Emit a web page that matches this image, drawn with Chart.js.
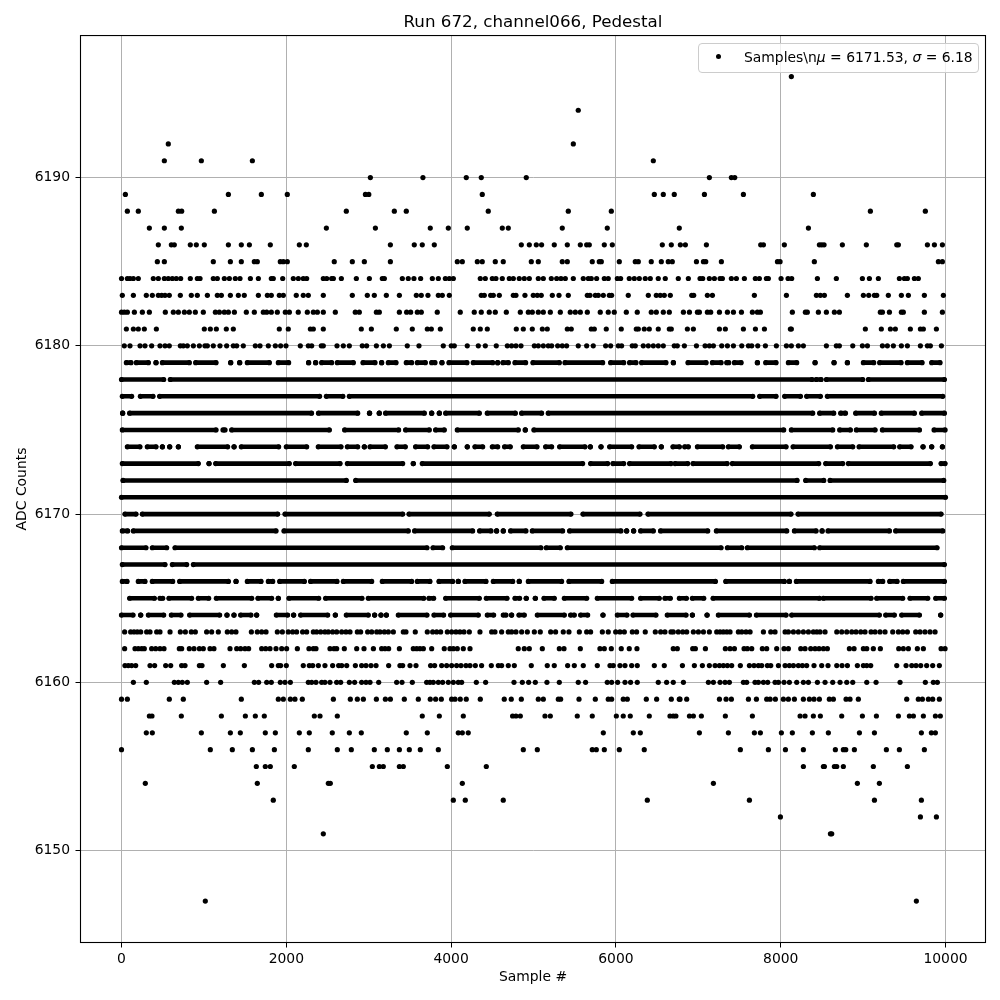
<!DOCTYPE html>
<html>
<head>
<meta charset="utf-8">
<title>Run 672 Pedestal</title>
<script src="https://cdn.jsdelivr.net/npm/chart.js@4/dist/chart.umd.js"></script>
<style>
html, body { margin: 0; padding: 0; background: #fff; }
#wrap { position: relative; width: 1000px; height: 1000px; }
#legend {
    position: absolute; left: 698px; top: 43px; width: 279px; height: 28px;
    background: rgba(255,255,255,0.8); border: 1px solid #ccc; border-radius: 4px;
    font: 13.9px "DejaVu Sans"; line-height: 26px; color: #000; white-space: pre;
}
#legend .dot { position: absolute; left: 17px; top: 10px; width: 5px; height: 5px; border-radius: 50%; background: #000; }
#legend .txt { position: absolute; left: 45px; top: 0; }
</style>
</head>
<body>
<div id="wrap">
    <canvas id="chart" width="1000" height="1000"></canvas>
    <div id="legend"><span class="dot"></span><span class="txt">Samples\n<i>μ</i> = 6171.53, <i>σ</i> = 6.18</span></div>
</div>
<script>
const titleText = 'Run 672, channel066, Pedestal';
const xLabel = 'Sample #';
const yLabel = 'ADC Counts';
const xTicks = [0, 2000, 4000, 6000, 8000, 10000];
const yTicks = [6150, 6160, 6170, 6180, 6190];

// --- SPARSE ROWS: sample numbers, one list per ADC level ---
const level6196 = [8129];
const level6194 = [5543];
const level6192 = [568, 5483];
const level6191 = [520, 969, 1588, 6454];
const level6190 = [3020, 3658, 4184, 4366, 4912, 7134, 7401, 7442];
const level6189 = [47, 1297, 1697, 2012, 2960, 3001, 4378, 6466, 6575, 6708, 7074, 7547, 8396];
const level6188 = [71, 204, 690, 730, 1127, 2728, 3311, 3456, 4451, 5422, 5944, 9088, 9755];
const level6187 = [338, 520, 726, 2486, 3081, 3747, 3966, 4196, 4621, 4694, 5349, 5895, 6769, 8336];
const level6186 = [447, 605, 641, 835, 908, 1005, 1297, 1454, 1552, 1806, 2158, 2243, 3263, 3553, 3650, 3796, 4852, 4949, 5034, 5098, 5252, 5410, 5568, 5645, 5677, 5859, 5956, 6563, 6672, 6782, 6843, 7098, 7757, 7790, 8044, 8469, 8497, 8526, 8748, 9039, 9408, 9428, 9780, 9865, 9962];
const level6185 = [435, 520, 1114, 1321, 1454, 1612, 1648, 1927, 1964, 2012, 2582, 2801, 2947, 3263, 4075, 4136, 4318, 4378, 4536, 4633, 4973, 5058, 5349, 5410, 5713, 5798, 5823, 6041, 6235, 6272, 6429, 6551, 6635, 6684, 6977, 7062, 7090, 7280, 7960, 7992, 8408, 9913, 9962];
const level6184 = [0, 71, 103, 144, 204, 386, 447, 520, 568, 617, 665, 718, 835, 920, 953, 1114, 1163, 1248, 1309, 1381, 1438, 1564, 1661, 1818, 1842, 1956, 2085, 2146, 2206, 2247, 2449, 2490, 2550, 2571, 2668, 2850, 3008, 3165, 3190, 3408, 3480, 3549, 3630, 3772, 3845, 3930, 3978, 4027, 4354, 4415, 4500, 4544, 4621, 4706, 4755, 4827, 4888, 4949, 5058, 5119, 5216, 5281, 5333, 5386, 5483, 5604, 5665, 5701, 5766, 5859, 5907, 6017, 6057, 6162, 6223, 6284, 6356, 6417, 6514, 6599, 6757, 6879, 7021, 7053, 7134, 7195, 7264, 7292, 7401, 7462, 7559, 7692, 7741, 7826, 7850, 8004, 8089, 8133, 8445, 8675, 8991, 9076, 9185, 9440, 9501, 9537, 9622, 9670];
const level6183 = [10, 144, 301, 374, 447, 487, 528, 580, 714, 847, 920, 1042, 1163, 1212, 1321, 1418, 1490, 1661, 1770, 1818, 1915, 1964, 2121, 2206, 2267, 2449, 2801, 2983, 3068, 3214, 3372, 3578, 3638, 3719, 3845, 3893, 3978, 4366, 4403, 4480, 4512, 4585, 4755, 4787, 4896, 4997, 5046, 5094, 5228, 5309, 5422, 5653, 5685, 5750, 5786, 5847, 5920, 5948, 6150, 6393, 6490, 6538, 6587, 6660, 6920, 6944, 7110, 7171, 7680, 8069, 8433, 8481, 8530, 8809, 9003, 9068, 9137, 9165, 9306, 9464, 9549, 9743, 9974];
const level6182 = [0, 34, 71, 156, 253, 338, 532, 629, 690, 763, 823, 896, 993, 1139, 1188, 1248, 1297, 1370, 1515, 1612, 1721, 1762, 1818, 1891, 1988, 2037, 2145, 2255, 2328, 2377, 2449, 2595, 2837, 2886, 3093, 3129, 3372, 3460, 3509, 3590, 3638, 3832, 4111, 4281, 4366, 4463, 4536, 4670, 4840, 4937, 4985, 5058, 5119, 5204, 5325, 5446, 5507, 5568, 5653, 5810, 5907, 5980, 6126, 6259, 6429, 6490, 6575, 6648, 6819, 6892, 6989, 7013, 7110, 7150, 7256, 7353, 7426, 7523, 7656, 7717, 7753, 8141, 8299, 8323, 8457, 8554, 8651, 8712, 9209, 9234, 9319, 9464, 9488, 9743, 9962];
const level6181 = [59, 144, 204, 277, 423, 1005, 1078, 1151, 1272, 1357, 1915, 2024, 2292, 2328, 2449, 2910, 3032, 3335, 3529, 3711, 3760, 3869, 4269, 4354, 4439, 4791, 4876, 4985, 5107, 5167, 5410, 5458, 5701, 5738, 5883, 6065, 6247, 6272, 6344, 6405, 6514, 6648, 6672, 6867, 6940, 7256, 7328, 7547, 7693, 7802, 8117, 8129, 9027, 9221, 9331, 9391, 9573, 9695, 9731, 9889];
const level6180 = [34, 103, 225, 285, 366, 467, 528, 580, 714, 750, 799, 872, 945, 1013, 1042, 1114, 1195, 1276, 1357, 1398, 1478, 1624, 1681, 1782, 1867, 1931, 1996, 2170, 2267, 2308, 2425, 2449, 2615, 2692, 2765, 2922, 2975, 3093, 3178, 3251, 3468, 3610, 3905, 4002, 4039, 4196, 4330, 4415, 4548, 4682, 4734, 4787, 4848, 5010, 5058, 5119, 5179, 5220, 5293, 5349, 5402, 5543, 5645, 5725, 5875, 5936, 6029, 6069, 6198, 6235, 6332, 6393, 6454, 6514, 6575, 6708, 6745, 6831, 6977, 7082, 7134, 7183, 7284, 7353, 7426, 7527, 7608, 7648, 7721, 7814, 7947, 8069, 8129, 8214, 8275, 8554, 8675, 8712, 8874, 8991, 9052, 9234, 9294, 9367, 9464, 9537, 9695, 9780, 9816, 9950];
const level6163 = [38, 111, 152, 192, 233, 305, 346, 427, 467, 589, 714, 775, 847, 896, 1033, 1094, 1175, 1284, 1337, 1389, 1576, 1648, 1701, 1754, 1891, 1952, 2024, 2077, 2125, 2198, 2247, 2328, 2368, 2417, 2469, 2510, 2562, 2611, 2672, 2724, 2773, 2862, 2902, 2987, 3036, 3097, 3137, 3190, 3238, 3299, 3420, 3452, 3565, 3711, 3776, 3825, 3873, 3954, 4006, 4059, 4107, 4156, 4221, 4350, 4492, 4532, 4613, 4694, 4734, 4787, 4856, 4925, 5010, 5082, 5208, 5268, 5361, 5430, 5556, 5645, 5693, 5835, 5907, 5997, 6049, 6102, 6199, 6251, 6356, 6478, 6543, 6595, 6668, 6696, 6757, 6811, 6859, 6940, 7001, 7062, 7134, 7223, 7264, 7304, 7345, 7385, 7486, 7527, 7579, 7628, 7790, 7879, 7931, 8053, 8093, 8154, 8214, 8275, 8336, 8396, 8437, 8477, 8538, 8680, 8740, 8801, 8862, 8914, 8971, 9023, 9096, 9145, 9205, 9266, 9359, 9428, 9480, 9537, 9638, 9691, 9751, 9812, 9873];
const level6162 = [38, 164, 204, 245, 277, 366, 415, 467, 516, 702, 730, 823, 880, 945, 993, 1074, 1122, 1317, 1398, 1446, 1499, 1543, 1701, 1750, 1802, 1875, 1944, 2004, 2134, 2275, 2328, 2360, 2530, 2579, 2611, 2704, 2854, 2943, 3057, 3157, 3198, 3242, 3372, 3541, 3582, 3622, 3663, 3764, 3917, 3986, 4027, 4075, 4148, 4229, 4815, 4888, 4949, 5107, 5313, 5370, 5568, 5806, 5859, 5944, 6065, 6162, 6255, 6696, 6745, 6932, 6964, 7086, 7328, 7385, 7438, 7555, 7595, 7648, 7777, 7830, 7951, 8040, 8093, 8243, 8295, 8364, 8417, 8465, 8518, 8566, 8833, 8890, 9003, 9044, 9124, 9209, 9432, 9488, 9549, 9658, 9731, 9946, 9994];
const level6161 = [42, 83, 123, 172, 346, 402, 536, 597, 730, 771, 945, 977, 1236, 1491, 1822, 1903, 1931, 2000, 2206, 2279, 2320, 2389, 2469, 2562, 2635, 2672, 2733, 2838, 2914, 2967, 3028, 3089, 3242, 3379, 3412, 3501, 3574, 3751, 3800, 3885, 3946, 4006, 4067, 4120, 4180, 4229, 4294, 4370, 4488, 4573, 4613, 4694, 4767, 4973, 5167, 5252, 5414, 5495, 5604, 5774, 5928, 5968, 6049, 6110, 6191, 6259, 6466, 6587, 6807, 6952, 7049, 7134, 7203, 7256, 7304, 7353, 7405, 7510, 7620, 7676, 7729, 7769, 7838, 7879, 7972, 8053, 8105, 8154, 8214, 8263, 8315, 8404, 8497, 8574, 8680, 8744, 8809, 8930, 9003, 9044, 9092, 9408, 9521, 9590, 9642, 9699, 9771, 9844, 9925];
const level6160 = [144, 301, 641, 690, 738, 799, 1033, 1203, 1612, 1664, 1762, 1818, 1927, 1984, 2049, 2267, 2308, 2360, 2429, 2469, 2530, 2611, 2660, 2765, 2829, 2914, 2967, 3016, 3121, 3339, 3404, 3529, 3703, 3743, 3784, 3845, 3897, 3966, 4027, 4087, 4128, 4306, 4419, 4763, 4864, 4941, 5022, 5163, 5313, 5543, 5632, 5895, 5948, 6021, 6110, 6178, 6259, 6514, 6615, 6696, 6819, 7122, 7183, 7264, 7324, 7377, 7547, 7587, 7688, 7729, 7790, 7842, 7931, 7972, 8040, 8105, 8194, 8275, 8336, 8445, 8538, 8631, 8720, 8801, 8874, 9044, 9157, 9448, 9755, 9852, 9901];
const level6159 = [0, 71, 580, 750, 1454, 1903, 1964, 2049, 2105, 2194, 2571, 2777, 2862, 2935, 3093, 3202, 3263, 3432, 3602, 3747, 3812, 3881, 4006, 4047, 4111, 4184, 4354, 4645, 4730, 4852, 5058, 5119, 5301, 5329, 5552, 5750, 5907, 5948, 6089, 6138, 6369, 6494, 6672, 6769, 6778, 6859, 7256, 7337, 7401, 7608, 7705, 7830, 7871, 7935, 8032, 8093, 8166, 8275, 8348, 8404, 8469, 8590, 8639, 8793, 8841, 8942, 9529, 9670, 9719, 9792, 9844, 9925];
const level6158 = [338, 370, 726, 1212, 1503, 1624, 1733, 2340, 2409, 2619, 3650, 3857, 4148, 4746, 4787, 4840, 5139, 5204, 5531, 5713, 6005, 6089, 6174, 6405, 6656, 6696, 6728, 6892, 6940, 7037, 7328, 7656, 8235, 8295, 8396, 8481, 8740, 8991, 9161, 9428, 9561, 9610, 9731, 9877, 9937];
const level6157 = [301, 374, 969, 1321, 1442, 1745, 1867, 2158, 2279, 2558, 2765, 2910, 3456, 3711, 4087, 4136, 4208, 5847, 6211, 6296, 7013, 7365, 7680, 7753, 8008, 8141, 8384, 8578, 8955, 9137, 9707, 9828, 9877];
const level6156 = [0, 1078, 1345, 1588, 1855, 2267, 2619, 2789, 3068, 3226, 3372, 3493, 3626, 3845, 4876, 5046, 5713, 5762, 5859, 6041, 6344, 7510, 7850, 8057, 8275, 8663, 8760, 8789, 8894, 9282, 9440, 9743];
const level6155 = [1636, 1745, 1806, 2097, 3044, 3129, 3177, 3372, 3420, 3954, 4427, 8275, 8518, 8530, 8651, 8680, 8760, 9124, 9537];
const level6154 = [289, 1648, 2510, 2534, 4136, 7183, 8930, 9197];
const level6153 = [1842, 4027, 4172, 4633, 6381, 7620, 9137, 9707];
const level6152 = [7996, 9695, 9889];
const level6151 = [2449, 8603, 8619];
const level6147 = [1017, 9646];

// --- DENSE ROWS: the dots merge into bars here, so each list holds [first, last] sample of a run ---
const runs6179 = [[59,115],[180,326],[419,419],[496,823],[900,1147],[1325,1325],[1434,1434],[1527,1794],[1903,2028],[2271,2271],[2356,2356],[2429,2550],[2619,2813],[2931,3076],[3157,3157],[3238,3331],[3456,3521],[3590,3687],[3764,3804],[3889,3889],[3974,4192],[4269,4504],[4565,4565],[4629,4694],[4775,4904],[4993,5313],[5382,5839],[5936,6094],[6166,6243],[6312,6607],[6697,6697],[6875,7094],[7171,7276],[7345,7369],[7438,7519],[7717,7717],[7818,7943],[8093,8194],[8417,8417],[8647,8647],[8809,8809],[9003,9128],[9201,9460],[9537,9715],[9832,9933]];
const runs6178 = [[0,512],[592,8380],[8430,8490],[8554,8995],[9064,9986]];
const runs6177 = [[10,123],[229,382],[463,2404],[2486,2686],[2765,7660],[7745,7943],[8048,8239],[8315,8481],[8566,9966]];
const runs6176 = [[14,14],[99,2306],[2391,2866],[3010,3010],[3128,3128],[3205,3675],[3764,3764],[3857,3857],[3934,4342],[4439,4779],[4856,5098],[5179,8388],[8473,8643],[8728,8785],[8910,9137],[9221,9622],[9711,9986]];
const runs6175 = [[10,1147],[1232,1256],[1337,2522],[2708,3363],[3448,3735],[3812,3917],[4075,4815],[4900,4900],[5005,8036],[8129,8631],[8716,8845],[8918,9145],[9234,9683],[9861,9994]];
const runs6174 = [[71,224],[313,419],[496,496],[585,585],[690,690],[920,1288],[1366,1366],[1454,1907],[2000,2247],[2388,2664],[2741,2866],[2947,2947],[3016,3202],[3343,3444],[3569,3715],[3792,3950],[4039,4039],[4196,4196],[4289,4383],[4500,4565],[4649,4718],[4876,5042],[5147,5220],[5317,5624],[5689,5689],[5819,5819],[5924,6191],[6280,6466],[6551,6551],[6692,6770],[6835,6879],[6989,7296],[7365,7498],[7656,8065],[8150,8603],[8688,8874],[8951,9371],[9444,9582],[9727,9727],[9832,9832],[9962,9962]];
const runs6173 = [[10,932],[1062,1062],[1143,2036],[2113,2652],[2741,3412],[3541,3541],[3650,5596],[5693,5899],[5964,6094],[6166,6668],[6718,6871],[6936,7349],[7413,8461],[8546,8752],[8821,9816],[9946,9994]];
const runs6172 = [[18,2728],[2842,8198],[8303,8522],[8599,9978]];
const runs6171 = [[0,9999]];
const runs6170 = [[42,176],[253,1895],[1984,3412],[3489,4463],[4560,5454],[5600,6292],[6389,8125],[8210,9946]];
const runs6169 = [[10,75],[144,1875],[1972,3480],[3557,4261],[4346,4484],[4552,4552],[4633,4633],[4722,4908],[4985,5353],[5438,6061],[6130,6130],[6215,6215],[6300,6454],[6542,7114],[7219,8073],[8166,8429],[8502,8502],[8574,9319],[9395,9966]];
const runs6168 = [[0,297],[374,548],[649,3707],[3780,3897],[4014,5090],[5155,5325],[5410,7276],[7353,7527],[7595,8408],[8473,9897]];
const runs6167 = [[10,528],[617,791],[872,9986]];
const runs6166 = [[10,67],[204,285],[374,621],[706,1297],[1390,1390],[1527,1693],[1782,1835],[1920,2219],[2295,2615],[2692,3036],[3165,3521],[3590,3743],[3853,4018],[4087,4087],[4168,4423],[4512,4747],[4827,4827],[4937,5341],[5430,5827],[5956,7207],[7333,8044],[8105,8105],[8190,9084],[9185,9238],[9323,9412],[9488,9986]];
const runs6165 = [[99,399],[467,500],[576,851],[932,1058],[1151,1580],[1656,1822],[1903,1903],[2033,2393],[2477,2918],[2995,3667],[3731,3788],[3934,4342],[4427,4678],[4775,4831],[4912,4912],[5022,5022],[5127,5252],[5374,5645],[5774,6191],[6300,6526],[6595,6660],[6770,6855],[6928,7066],[7179,8469],[8518,9096],[9165,9480],[9569,9784],[9881,9986]];
const runs6164 = [[0,140],[233,233],[326,512],[605,722],[827,1191],[1280,1280],[1365,1365],[1446,1571],[1640,1640],[1879,2016],[2089,2089],[2174,2502],[2595,2595],[2728,2995],[3072,3072],[3149,3149],[3214,3214],[3359,3707],[3792,3909],[3994,4330],[4439,4516],[4633,4666],[4734,4734],[4823,4888],[5046,5374],[5450,5495],[5572,5657],[5843,5843],[6017,6134],[6207,6486],[6623,6851],[6928,6928],[7106,7106],[7243,7620],[7705,8065],[8133,9197],[9274,9379],[9468,9683],[9941,9941]];

const sparseRows = [
    [6196, level6196], [6194, level6194], [6192, level6192], [6191, level6191], [6190, level6190],
    [6189, level6189], [6188, level6188], [6187, level6187], [6186, level6186], [6185, level6185],
    [6184, level6184], [6183, level6183], [6182, level6182], [6181, level6181], [6180, level6180],
    [6163, level6163], [6162, level6162], [6161, level6161], [6160, level6160], [6159, level6159],
    [6158, level6158], [6157, level6157], [6156, level6156], [6155, level6155], [6154, level6154],
    [6153, level6153], [6152, level6152], [6151, level6151], [6147, level6147]
];
const denseRows = [
    [6179, runs6179], [6178, runs6178], [6177, runs6177], [6176, runs6176], [6175, runs6175], [6174, runs6174],
    [6173, runs6173], [6172, runs6172], [6171, runs6171], [6170, runs6170], [6169, runs6169], [6168, runs6168],
    [6167, runs6167], [6166, runs6166], [6165, runs6165], [6164, runs6164]
];

const samplePoints = [];
sparseRows.forEach(([level, xs]) => xs.forEach(x => samplePoints.push({ x: x, y: level })));

// a null point breaks the line between two runs
const runPoints = [];
denseRows.forEach(([level, runs]) => runs.forEach(([a, b]) => {
    runPoints.push({ x: a, y: level }, { x: b, y: level }, { x: null, y: null });
}));

const font = { family: '"DejaVu Sans"', size: 13.9 };

// all four spines are drawn here so they come out the same width
const framePlugin = {
    id: 'frame',
    afterDraw(chart) {
        const { ctx, chartArea: a } = chart;
        ctx.save();
        ctx.strokeStyle = '#000';
        ctx.lineWidth = 1.1;
        ctx.strokeRect(a.left, a.top, a.right - a.left, a.bottom - a.top);
        ctx.restore();
    }
};

new Chart(document.getElementById('chart').getContext('2d'), {
    type: 'scatter',
    data: {
        datasets: [
            {
                label: 'Samples',
                data: samplePoints,
                backgroundColor: '#000',
                pointRadius: 2.6,
                pointBorderWidth: 0
            },
            {
                label: 'Dense runs',
                data: runPoints,
                showLine: true,
                spanGaps: false,
                borderColor: '#000',
                borderWidth: 4.6,
                borderCapStyle: 'round',
                backgroundColor: '#000',
                pointRadius: 2.6,
                pointBorderWidth: 0
            }
        ]
    },
    plugins: [framePlugin],
    options: {
        responsive: false,
        animation: false,
        layout: { padding: { top: 0, right: 14.5, bottom: 14, left: 14 } },
        plugins: {
            legend: { display: false },
            tooltip: { enabled: false },
            title: {
                display: true,
                text: titleText,
                fullSize: false,
                color: '#000',
                font: { family: '"DejaVu Sans"', size: 16.7, weight: 'normal' },
                padding: { top: 12.5, bottom: 3 }
            }
        },
        scales: {
            x: {
                type: 'linear',
                min: -497.6,
                max: 10485,
                afterBuildTicks: s => { s.ticks = xTicks.map(v => ({ value: v })); },
                afterFit: s => { s.height = 43.5; },
                grid: { color: '#b0b0b0', lineWidth: 1, tickColor: '#000', tickLength: 5 },
                border: { display: false },
                ticks: { color: '#000', font: font, padding: 4, maxRotation: 0, callback: v => String(v) },
                title: { display: true, text: xLabel, color: '#000', font: font, padding: 0 }
            },
            y: {
                type: 'linear',
                min: 6144.54,
                max: 6198.44,
                afterBuildTicks: s => { s.ticks = yTicks.map(v => ({ value: v })); },
                afterFit: s => { s.width = 66.5; },
                grid: { color: '#b0b0b0', lineWidth: 1, tickColor: '#000', tickLength: 5 },
                border: { display: false },
                ticks: { color: '#000', font: font, padding: 5.5, callback: v => String(v) },
                title: { display: true, text: yLabel, color: '#000', font: font, padding: 0 }
            }
        }
    }
});
</script>
</body>
</html>
